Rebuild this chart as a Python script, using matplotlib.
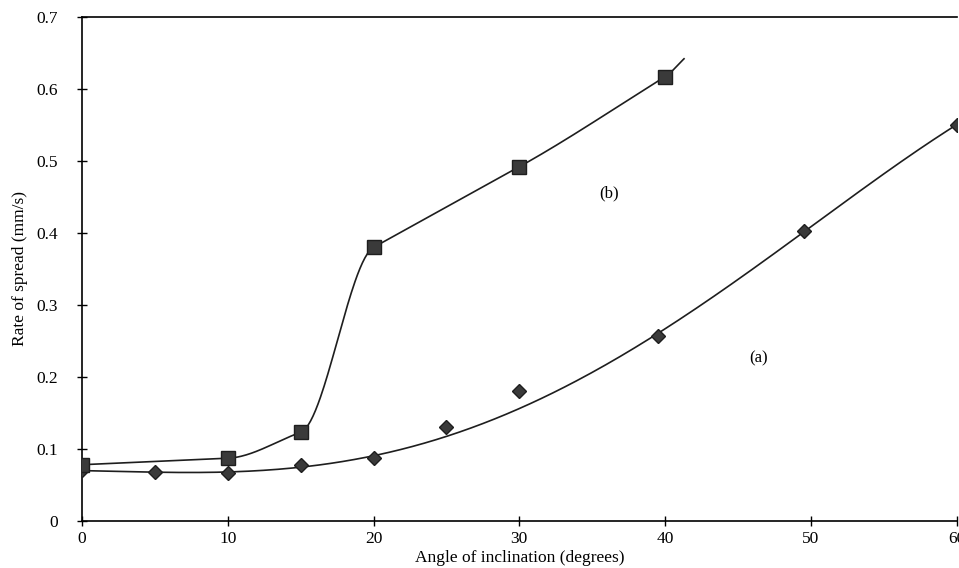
import numpy as np
import matplotlib.pyplot as plt

# series (a): diamonds
angle_a = [0, 5, 10, 15, 20, 25, 30, 39.5, 49.5, 60]
rate_a = [0.07, 0.068, 0.066, 0.077, 0.088, 0.13, 0.18, 0.257, 0.403, 0.55]
# the drawn trend for (a) runs under the 25 and 30 points
fit_weight_a = [1, 1, 1, 1, 1, 0.3, 0.3, 1, 1, 1]

# series (b): squares (curve runs a little past the last square)
angle_b = [0, 10, 15, 20, 30, 40]
rate_b = [0.078, 0.087, 0.123, 0.38, 0.492, 0.617]
b_curve_end = (41.3, 0.642)

x_ticks = [0, 10, 20, 30, 40, 50, 60]
y_ticks = [0, 0.1, 0.2, 0.3, 0.4, 0.5, 0.6, 0.7]
y_ticklabels = ['0', '0.1', '0.2', '0.3', '0.4', '0.5', '0.6', '0.7']


def hermite(x, y, n=60):
    # cubic through the points, tangent = the gentler neighbouring slope
    x = np.asarray(x, float)
    y = np.asarray(y, float)
    h = np.diff(x)
    d = np.diff(y) / h
    m = np.empty_like(y)
    m[0] = d[0]
    m[-1] = d[-1]
    for k in range(1, len(x) - 1):
        m[k] = min(d[k - 1], d[k], key=abs)
    xs, ys = [], []
    for k in range(len(x) - 1):
        t = np.linspace(0, 1, n)
        h00 = 2 * t**3 - 3 * t**2 + 1
        h10 = t**3 - 2 * t**2 + t
        h01 = -2 * t**3 + 3 * t**2
        h11 = t**3 - t**2
        xs.append(x[k] + t * h[k])
        ys.append(h00 * y[k] + h10 * h[k] * m[k] + h01 * y[k + 1] + h11 * h[k] * m[k + 1])
    return np.concatenate(xs), np.concatenate(ys)


plt.rcParams['font.family'] = ['Liberation Serif', 'DejaVu Serif']

fig = plt.figure(figsize=(9.59, 5.68), dpi=100)
ax = fig.add_axes([0.0855, 0.083, 0.912, 0.887])

# (a) trend curve
coef = np.polyfit(angle_a, rate_a, 4, w=fit_weight_a)
xa = np.linspace(0, 60, 300)
ax.plot(xa, np.polyval(coef, xa), color='#1e1e1e', lw=1.2, zorder=2)
ax.plot(angle_a, rate_a, 'D', ms=7.5, color='#3a3a3a', mec='#1e1e1e', zorder=3)

# (b) smoothed curve
cx, cy = hermite(angle_b + [b_curve_end[0]], rate_b + [b_curve_end[1]])
ax.plot(cx, cy, color='#1e1e1e', lw=1.2, zorder=2)
ax.plot(angle_b, rate_b, 's', ms=9.5, color='#3a3a3a', mec='#1e1e1e', zorder=3)

ax.text(35.5, 0.45, '(b)', fontsize=12)
ax.text(45.8, 0.22, '(a)', fontsize=12)

ax.set_xlim(0, 60)
ax.set_ylim(0, 0.7)
ax.set_xticks(x_ticks)
ax.set_yticks(y_ticks)
ax.set_yticklabels(y_ticklabels)
ax.tick_params(direction='inout', length=7, width=1, labelsize=12.5)
ax.tick_params(axis='y', pad=14)
ax.tick_params(axis='x', pad=4)
ax.set_xlabel('Angle of inclination (degrees)', fontsize=12.5, labelpad=2)
ax.set_ylabel('Rate of spread (mm/s)', fontsize=12.5, labelpad=6)

for s in ['left', 'bottom', 'top']:
    ax.spines[s].set_linewidth(1.2)
ax.spines['right'].set_visible(False)

fig.savefig('out.png', dpi=100)
